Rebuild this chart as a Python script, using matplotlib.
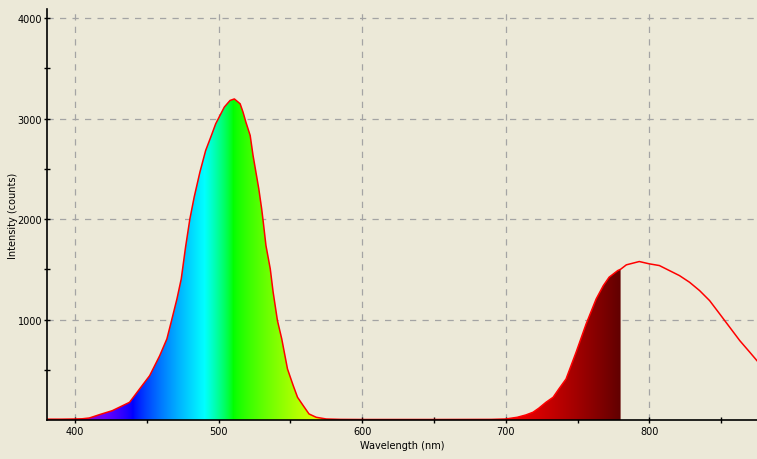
import numpy as np
import matplotlib
matplotlib.use('Agg')
from matplotlib import pyplot as plt
from matplotlib.patches import Polygon

# spectrum (wavelength nm, counts)
wavelength = [380, 390, 400, 405, 410, 417, 426, 438, 445, 452, 459, 464, 467, 471, 474, 477,
              480, 483, 487, 491, 495, 498, 501, 504, 508, 511, 515, 517, 519, 522, 524, 526,
              528, 530, 531, 533, 536, 538, 541, 544, 546, 548, 552, 555, 559, 563, 568,
              575, 585, 600, 650, 690, 700, 708, 714, 719, 723, 728, 733, 737, 742, 749,
              756, 763, 768, 772, 778, 780, 784, 793, 800, 807, 814, 821, 828, 835, 842,
              849, 856, 863, 870, 875]
counts = [8, 8, 10, 12, 20, 53, 93, 176, 309, 441, 640, 807, 976, 1205, 1404, 1720,
          2000, 2218, 2467, 2682, 2832, 2948, 3031, 3114, 3180, 3195, 3147, 3065, 2965, 2832, 2633, 2467,
          2301, 2102, 1985, 1736, 1504, 1272, 989, 807, 657, 508, 342, 226, 142, 60, 27,
          10, 6, 5, 5, 6, 10, 27, 50, 77, 117, 176, 226, 309, 408, 674,
          956, 1205, 1338, 1421, 1487, 1500, 1544, 1577, 1554, 1537, 1487, 1437, 1371, 1288, 1188,
          1056, 923, 790, 674, 590]

x_ticks = [400, 500, 600, 700, 800]
y_ticks = [1000, 2000, 3000, 4000]

bg = '#ECE9D8'


def wl_rgb(w):
    # visible spectrum colour (Bruton)
    if w < 440:
        r, g, b = -(w - 440) / 60.0, 0.0, 1.0
    elif w < 490:
        r, g, b = 0.0, (w - 440) / 50.0, 1.0
    elif w < 510:
        r, g, b = 0.0, 1.0, -(w - 510) / 20.0
    elif w < 580:
        r, g, b = (w - 510) / 70.0, 1.0, 0.0
    elif w < 645:
        r, g, b = 1.0, -(w - 645) / 65.0, 0.0
    else:
        r, g, b = 1.0, 0.0, 0.0
    if w < 420:
        f = 0.3 + 0.7 * (w - 380) / 40.0
    elif w > 700:
        f = 0.3 + 0.7 * (780 - w) / 80.0
    else:
        f = 1.0
    return [(c * f) ** 0.8 for c in (r, g, b)]


fig = plt.figure(figsize=(7.57, 4.6), dpi=100, facecolor=bg)
ax = fig.add_axes([47 / 757, 39 / 460, 710 / 757, 411 / 460], facecolor=bg)

wl = np.array(wavelength)
ct = np.array(counts)

# coloured fill, visible part only
vis = wl <= 780
verts = [(wl[vis][0], 0)] + list(zip(wl[vis], ct[vis])) + [(wl[vis][-1], 0)]
poly = Polygon(verts, closed=True, facecolor='none', edgecolor='none')
ax.add_patch(poly)
grad_wl = np.arange(380, 781)
grad = np.array([[wl_rgb(w) for w in grad_wl]])
im = ax.imshow(grad, extent=[380, 780, 0, 4100], aspect='auto', origin='lower',
               interpolation='bilinear', zorder=1)
im.set_clip_path(poly)

ax.plot(wl, ct, color='#ff0000', lw=1.1, zorder=3)

ax.set_xlim(380.5, 875)
ax.set_ylim(0, 4090)
ax.set_xticks(x_ticks)
ax.set_xticks(np.arange(450, 876, 50), minor=True)
ax.set_yticks(y_ticks)
ax.set_yticks([500, 1500, 2500, 3500], minor=True)
ax.tick_params(which='both', direction='inout', length=5, width=1, color='black',
               labelsize=7, labelcolor='black')
ax.tick_params(axis='x', pad=2)
ax.tick_params(axis='y', pad=1)

ax.grid(True, which='major', color='#a4a4a4', linestyle=(0, (5, 5)), linewidth=0.9, zorder=0)
ax.set_axisbelow(True)

for s in ['top', 'right']:
    ax.spines[s].set_visible(False)
for s in ['left', 'bottom']:
    ax.spines[s].set_linewidth(1.2)
    ax.spines[s].set_zorder(5)

ax.set_xlabel('Wavelength (nm)', fontsize=7, labelpad=3)
ax.set_ylabel('Intensity (counts)', fontsize=7, labelpad=-0.5)

fig.savefig('out.png', dpi=100, facecolor=bg)
